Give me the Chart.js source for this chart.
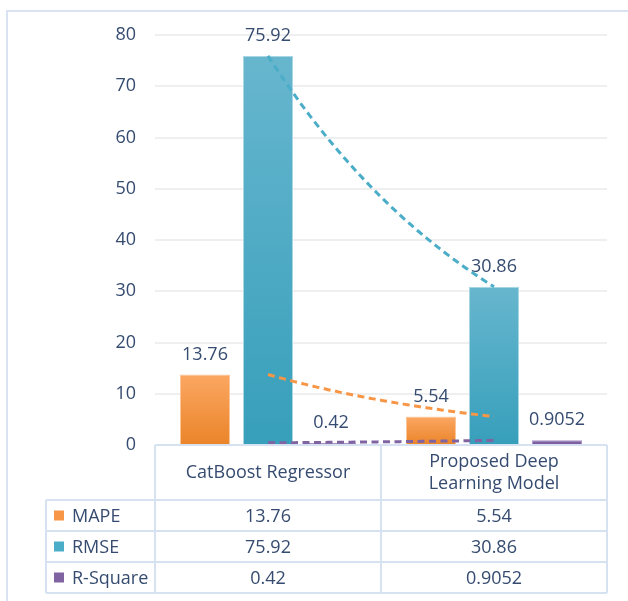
<!DOCTYPE html>
<html lang="en">
<head>
<meta charset="UTF-8">
<title>Model comparison</title>
<style>
  html, body { margin: 0; padding: 0; background: #fff; }
  #wrap { position: relative; width: 628px; height: 601px; }
  #frame { position: absolute; left: 6px; top: 10px; width: 640px; height: 610px;
           border: 2px solid #dae3f3; box-sizing: border-box; pointer-events: none; }
</style>
</head>
<body>
<div id="wrap">
  <canvas id="myChart" width="628" height="601"></canvas>
  <div id="frame"></div>
</div>
<script src="https://cdn.jsdelivr.net/npm/chart.js"></script>
<script>
  const categories = ['CatBoost Regressor', 'Proposed Deep Learning Model'];
  const headerLines = [['CatBoost Regressor'], ['Proposed Deep', 'Learning Model']];
  const seriesNames = ['MAPE', 'RMSE', 'R-Square'];
  const mape = [13.76, 5.54];
  const rmse = [75.92, 30.86];
  const rsquare = [0.42, 0.9052];
  const yTicks = [0, 10, 20, 30, 40, 50, 60, 70, 80];

  const FONT = '"Open Sans", sans-serif';
  const TEXT = '#354b70';
  const LINE = '#d6e1f1';

  // top / bottom colours of each series' gradient
  const palette = [
    { top: '#fba762', bottom: '#ea8429', edge: '#fcc598', trend: '#f79646' },
    { top: '#67b6ce', bottom: '#379fbb', edge: '#a8d6e4', trend: '#4badc7' },
    { top: '#8466a6', bottom: '#7a5c9e', edge: '#a994c4', trend: '#8064a2' }
  ];

  function barGradient(ctx, i) {
    const chart = ctx.chart;
    const c = palette[i];
    if (!chart.chartArea || !chart.scales.y) return c.bottom;
    const v = ctx.raw;
    const y = chart.scales.y;
    const top = y.getPixelForValue(v), bot = y.getPixelForValue(0);
    if (!(bot - top > 1)) return c.bottom;
    const g = chart.ctx.createLinearGradient(0, top, 0, bot);
    g.addColorStop(0, c.top);
    g.addColorStop(1, c.bottom);
    return g;
  }

  // value labels above bars
  const valueLabels = {
    id: 'valueLabels',
    afterDatasetsDraw(chart) {
      const ctx = chart.ctx;
      ctx.save();
      ctx.font = '18px ' + FONT;
      ctx.fillStyle = TEXT;
      ctx.textAlign = 'center';
      ctx.textBaseline = 'middle';
      chart.data.datasets.forEach((ds, i) => {
        chart.getDatasetMeta(i).data.forEach((bar, j) => {
          ctx.fillText(String(ds.data[j]), bar.x, bar.y - 20);
        });
      });
      ctx.restore();
    }
  };

  // exponential trendlines through each series, at category centres
  const trendlines = {
    id: 'trendlines',
    afterDatasetsDraw(chart) {
      const ctx = chart.ctx, x = chart.scales.x, y = chart.scales.y;
      ctx.save();
      ctx.lineWidth = 3;
      ctx.setLineDash([7, 4.5]);
      chart.data.datasets.forEach((ds, i) => {
        const v0 = ds.data[0], v1 = ds.data[1];
        const x0 = x.getPixelForValue(0), x1 = x.getPixelForValue(1);
        ctx.strokeStyle = palette[i].trend;
        ctx.beginPath();
        for (let k = 0; k <= 60; k++) {
          const t = k / 60;
          const v = v0 * Math.pow(v1 / v0, t);
          const px = x0 + (x1 - x0) * t, py = y.getPixelForValue(v);
          if (k === 0) ctx.moveTo(px, py); else ctx.lineTo(px, py);
        }
        ctx.stroke();
      });
      ctx.restore();
    }
  };

  // Excel-style data table under the plot
  const dataTable = {
    id: 'dataTable',
    afterDraw(chart) {
      const ctx = chart.ctx, x = chart.scales.x, area = chart.chartArea;
      const n = categories.length;
      const colW = (area.right - area.left) / n;
      const top = area.bottom, headH = 55, rowH = 31;
      const legendLeft = 46;
      const bottom = top + headH + rowH * seriesNames.length;
      ctx.save();
      ctx.strokeStyle = LINE;
      ctx.lineWidth = 2;
      ctx.beginPath();
      ctx.moveTo(area.left, top); ctx.lineTo(area.right, top);
      for (let c = 0; c <= n; c++) {
        const cx = area.left + c * colW;
        ctx.moveTo(cx, top); ctx.lineTo(cx, bottom);
      }
      ctx.moveTo(legendLeft, top + headH); ctx.lineTo(legendLeft, bottom);
      for (let r = 0; r <= seriesNames.length; r++) {
        const ry = top + headH + r * rowH;
        ctx.moveTo(legendLeft, ry); ctx.lineTo(area.right, ry);
      }
      ctx.stroke();

      ctx.fillStyle = TEXT;
      ctx.font = '18px ' + FONT;
      ctx.textAlign = 'center';
      ctx.textBaseline = 'middle';
      headerLines.forEach((lines, c) => {
        const cx = x.getPixelForValue(c);
        const mid = top + headH / 2;
        lines.forEach((ln, k) => {
          ctx.fillText(ln, cx, mid + (k - (lines.length - 1) / 2) * 22);
        });
      });
      chart.data.datasets.forEach((ds, r) => {
        const ry = top + headH + r * rowH + rowH / 2;
        ctx.fillStyle = palette[r].trend;
        ctx.fillRect(legendLeft + 8, ry - 5, 10, 10);
        ctx.fillStyle = TEXT;
        ctx.textAlign = 'left';
        ctx.fillText(seriesNames[r], legendLeft + 26, ry + 1);
        ctx.textAlign = 'center';
        ds.data.forEach((v, c) => {
          ctx.fillText(String(v), x.getPixelForValue(c), ry + 1);
        });
      });
      ctx.restore();
    }
  };

  const series = [mape, rmse, rsquare];
  const data = {
    labels: categories,
    datasets: series.map((vals, i) => ({
      label: seriesNames[i],
      data: vals,
      backgroundColor: (ctx) => barGradient(ctx, i),
      borderColor: palette[i].edge,
      borderWidth: 1,
      categoryPercentage: 189 / 226,
      barPercentage: 50 / 63
    }))
  };

  new Chart(document.getElementById('myChart'), {
    type: 'bar',
    data: data,
    options: {
      responsive: false,
      animation: false,
      layout: { padding: { top: 35, right: 21, bottom: 156, left: 0 } },
      plugins: { legend: { display: false }, tooltip: { enabled: false } },
      scales: {
        x: { display: false },
        y: {
          min: 0, max: 80,
          afterFit(scale) { scale.width = 155; },
          afterBuildTicks(scale) { scale.ticks = yTicks.map(v => ({ value: v })); },
          border: { display: false },
          grid: { color: '#efefef', lineWidth: 2, drawTicks: false },
          ticks: { color: TEXT, font: { family: FONT, size: 18 }, padding: 19 }
        }
      }
    },
    plugins: [valueLabels, trendlines, dataTable]
  });
</script>
</body>
</html>
